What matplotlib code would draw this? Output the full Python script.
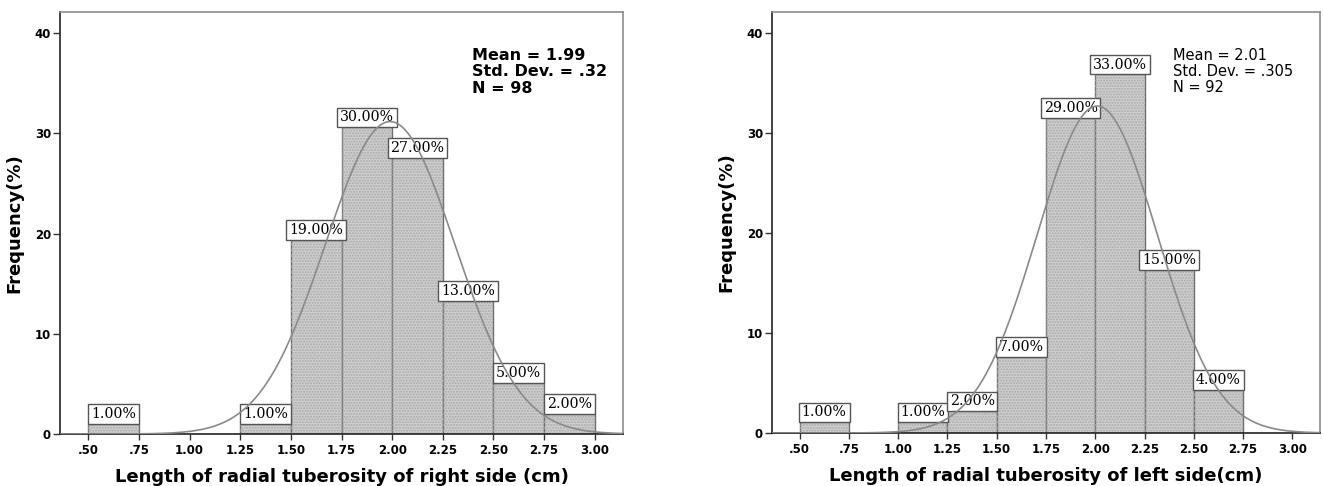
import numpy as np
import matplotlib.pyplot as plt

# histogram bins (left edge, width .25) and counts
right_edges = [0.50, 1.25, 1.50, 1.75, 2.00, 2.25, 2.50, 2.75]
right_counts = [1, 1, 19, 30, 27, 13, 5, 2]
right_stats = (1.99, 0.32, 98)

left_edges = [0.50, 1.00, 1.25, 1.50, 1.75, 2.00, 2.25, 2.50]
left_counts = [1, 1, 2, 7, 29, 33, 15, 4]
left_stats = (2.01, 0.305, 92)

bin_width = 0.25
xticks = [0.50, 0.75, 1.00, 1.25, 1.50, 1.75, 2.00, 2.25, 2.50, 2.75, 3.00]
xticklabels = ['.50', '.75', '1.00', '1.25', '1.50', '1.75', '2.00', '2.25', '2.50', '2.75', '3.00']
yticks = [0, 10, 20, 30, 40]


def draw_hist(ax, edges, counts, stats, xlabel, stats_kw):
    mean, sd, n = stats
    edges = np.array(edges)
    counts = np.array(counts)
    heights = counts / n * 100

    ax.bar(edges, heights, width=bin_width, align='edge', color='#d0d0d0',
           edgecolor='#6e6e6e', linewidth=1.0, zorder=2)
    # stipple texture
    ax.bar(edges, heights, width=bin_width, align='edge', fill=False,
           edgecolor='#a8a8a8', linewidth=0, hatch='......', zorder=2.1)

    for x, h, c in zip(edges, heights, counts):
        ax.annotate('%.2f%%' % c, (x + bin_width / 2, h), xytext=(0, 2.0),
                    textcoords='offset points', ha='center', va='bottom',
                    family='DejaVu Serif', fontsize=10.2, zorder=3,
                    bbox=dict(boxstyle='square,pad=0.2', fc='white',
                              ec='#555555', lw=1.0))

    xs = np.linspace(0.3, 3.2, 400)
    curve = 100 * bin_width * np.exp(-0.5 * ((xs - mean) / sd) ** 2) / (sd * np.sqrt(2 * np.pi))
    ax.plot(xs, curve, color='#8a8a8a', lw=1.2, zorder=4)

    ax.set_xlim(0.36, 3.14)
    ax.set_ylim(0, 42.1)
    ax.set_xticks(xticks)
    ax.set_xticklabels(xticklabels)
    ax.set_yticks(yticks)
    for lab in ax.get_xticklabels() + ax.get_yticklabels():
        lab.set_fontweight('bold')
        lab.set_fontsize(8.5)
    ax.tick_params(axis='y', length=5, width=1, color='#333333', pad=1.5)
    ax.tick_params(axis='x', length=4, width=1, color='#333333', pad=3)

    ax.spines['left'].set_color('#222222')
    ax.spines['bottom'].set_color('#222222')
    ax.spines['top'].set_color('#8c8c8c')
    ax.spines['right'].set_color('#8c8c8c')
    for s in ax.spines.values():
        s.set_linewidth(1.2)

    ax.set_xlabel(xlabel, fontsize=13, fontweight='bold', labelpad=8)
    ax.set_ylabel('Frequency(%)', fontsize=13, fontweight='bold', labelpad=8)

    ax.text(0.731, 0.915, 'Mean = %s\nStd. Dev. = %s\nN = %d' % (stats_kw['mean'], stats_kw['sd'], n),
            transform=ax.transAxes, ha='left', va='top', linespacing=stats_kw['spacing'],
            fontsize=stats_kw['size'], fontweight=stats_kw['weight'], zorder=5)


fig = plt.figure(figsize=(13.23, 4.86), dpi=100)
ax1 = fig.add_axes([60 / 1323, 52 / 486, 563 / 1323, 422 / 486])
ax2 = fig.add_axes([772 / 1323, 53 / 486, 548 / 1323, 421 / 486])

draw_hist(ax1, right_edges, right_counts, right_stats,
          'Length of radial tuberosity of right side (cm)',
          {'mean': '1.99', 'sd': '.32', 'size': 11.5, 'weight': 'bold', 'spacing': 1.12})
draw_hist(ax2, left_edges, left_counts, left_stats,
          'Length of radial tuberosity of left side(cm)',
          {'mean': '2.01', 'sd': '.305', 'size': 10.5, 'weight': 'normal', 'spacing': 1.08})

fig.savefig('out.png', dpi=100)
